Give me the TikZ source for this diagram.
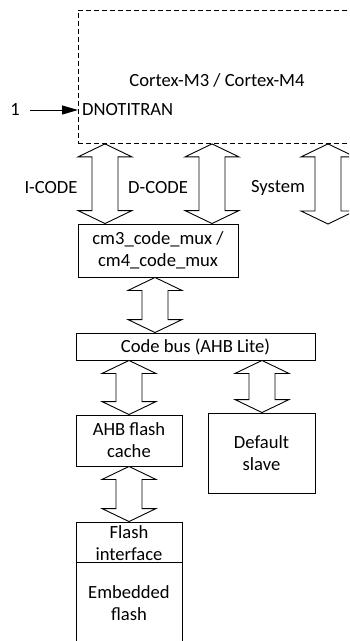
\documentclass[tikz,border=0pt]{standalone}
\usepackage{fontspec}
\setmainfont{Carlito}
\usetikzlibrary{calc,arrows.meta}
\tikzset{
  txt/.style={inner sep=0pt, align=center, font=\fontsize{18.6}{22}\selectfont},
  box/.style={draw, line width=0.9pt, inner sep=0pt, align=center, font=\fontsize{18.6}{22}\selectfont},
  dbox/.style={draw, line width=0.9pt, dash pattern=on 5pt off 3pt, inner sep=0pt},
  barrow/.style={draw, line width=0.9pt, line join=miter, fill=white},
}
\newcommand\bararrow[2]{%
  \path[barrow] let \p1=#1, \p2=#2 in
    (\x1,\y1) -- (\x1+27pt,\y1-13pt) -- (\x1+13pt,\y1-13pt) -- (\x1+13pt,\y2+13pt)
    -- (\x1+27pt,\y2+13pt) -- (\x1,\y2) -- (\x1-27pt,\y2+13pt) -- (\x1-13pt,\y2+13pt)
    -- (\x1-13pt,\y1-13pt) -- (\x1-27pt,\y1-13pt) -- cycle;}
\begin{document}
\begin{tikzpicture}[x=1pt,y=-1pt]
\clip (0,0) rectangle (349,641);
\useasboundingbox (0,0) rectangle (349,641);
% Cortex box
\node[dbox, minimum width=320pt, minimum height=133pt, anchor=north west] (cortex) at (78,10) {};
\node[txt] (title) at (217,80) {Cortex-M3 / Cortex-M4};
\node[txt, anchor=west] (dnot) at (82,110) {DNOTITRAN};
\node[txt] (one) at (15,110) {1};
\draw[line width=0.9pt, -{Triangle[length=16pt,width=9pt]}] (one.east) ++(10pt,0) coordinate (oneS) -- (oneS -| cortex.west);
% x positions
\coordinate (xI) at (105,0);
\coordinate (xD) at (212,0);
\coordinate (xS) at (328,0);
% boxes
\node[box, minimum width=160pt, minimum height=53pt] (mux) at (158,250.5) {cm3\_code\_mux /\\cm4\_code\_mux};
\node[box, minimum width=239pt, minimum height=27pt] (bus) at (195.5,346.5) {Code bus (AHB Lite)};
\node[box, minimum width=106pt, minimum height=51pt] (cache) at (129,440.5) {AHB flash\\cache};
\node[box, minimum width=107pt, minimum height=80pt] (slave) at (261.5,453) {Default\\slave};
\node[box, minimum width=106pt, minimum height=40pt] (fif) at (129,542) {};
\node[box, minimum width=106pt, minimum height=140pt, anchor=north] (emb) at (fif.south) {};
\node[txt] (fiftxt) at (129,543) {Flash\\interface};
\node[txt] (embtxt) at (129,603) {Embedded\\flash};
\coordinate (sysend) at (328,224);
% block arrows
\bararrow{(cortex.south -| xI)}{(mux.north -| xI)}
\bararrow{(cortex.south -| xD)}{(mux.north -| xD)}
\bararrow{(cortex.south -| xS)}{(sysend)}
\bararrow{(mux.south -| 155,0)}{(bus.north -| 155,0)}
\bararrow{(bus.south -| cache.north)}{(cache.north)}
\bararrow{(bus.south -| 262,0)}{(slave.north -| 262,0)}
\bararrow{(cache.south)}{(fif.north)}
% labels
\node[txt] (lI) at (51,188) {I-CODE};
\node[txt] (lD) at (158,188) {D-CODE};
\node[txt] (lS) at (278,188) {System};
\end{tikzpicture}
\end{document}
